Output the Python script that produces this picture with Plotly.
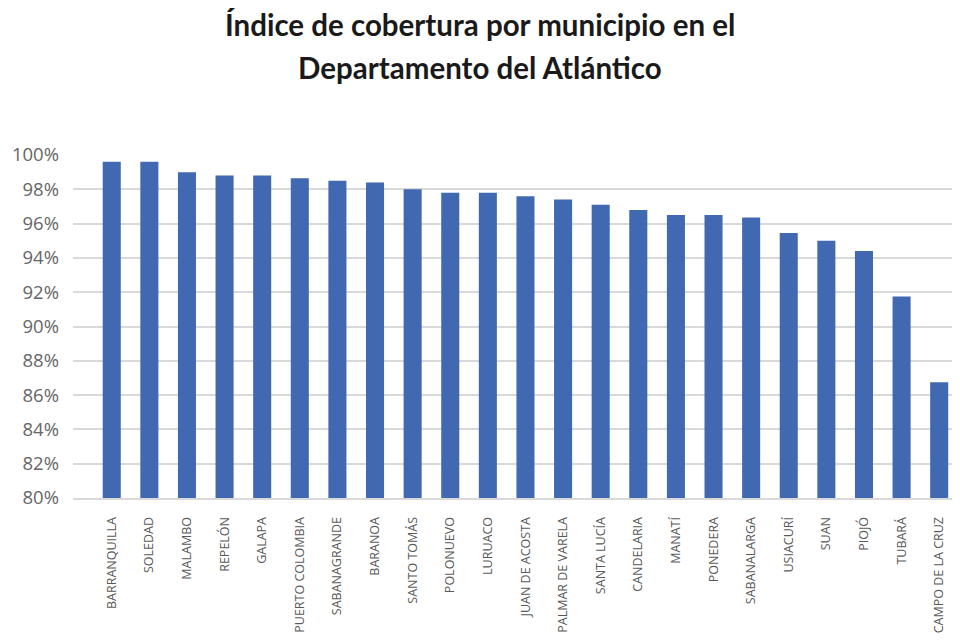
import plotly.graph_objects as go

municipios = ["BARRANQUILLA", "SOLEDAD", "MALAMBO", "REPELÓN", "GALAPA", "PUERTO COLOMBIA",
              "SABANAGRANDE", "BARANOA", "SANTO TOMÁS", "POLONUEVO", "LURUACO", "JUAN DE ACOSTA",
              "PALMAR DE VARELA", "SANTA LUCÍA", "CANDELARIA", "MANATÍ", "PONEDERA", "SABANALARGA",
              "USIACURÍ", "SUAN", "PIOJÓ", "TUBARÁ", "CAMPO DE LA CRUZ"]
cobertura = [99.6, 99.6, 99.0, 98.8, 98.8, 98.65, 98.5, 98.4, 98.0, 97.8, 97.8, 97.6,
             97.4, 97.1, 96.8, 96.5, 96.5, 96.35, 95.45, 95.0, 94.4, 91.75, 86.75]
y_ticks = [80, 82, 84, 86, 88, 90, 92, 94, 96, 98, 100]
y_labels = [f"{v}%" for v in y_ticks]
title_lines = ["Índice de cobertura por municipio en el", "Departamento del Atlántico"]

L, R, T, B = 65, 10, 147, 154
plot_w = 960 - L - R
plot_h = 644 - T - B

fig = go.Figure(go.Bar(x=municipios, y=cobertura, marker_color="#4169B2",
                       width=0.48, marker_line_width=0))

for txt, ypix in zip(title_lines, [16, 59]):
    fig.add_annotation(text=txt, xref="paper", yref="paper", x=(472 - L) / plot_w, xanchor="center",
                       y=1 + (T - ypix) / plot_h, yanchor="middle", showarrow=False,
                       font=dict(family="Lato", size=29.5, color="#1a1a1a", weight="bold"))

fig.update_layout(
    width=960, height=644,
    paper_bgcolor="white", plot_bgcolor="white",
    margin=dict(l=L, r=R, t=T, b=B, autoexpand=False),
    showlegend=False,
    font=dict(family="Open Sans", color="#595959"),
)
fig.update_yaxes(range=[80, 100], tickvals=y_ticks, ticktext=y_labels, automargin=False,
                 showgrid=True, gridcolor="#D9D9D9", gridwidth=2,
                 zeroline=False, showline=False, ticks="",
                 tickfont=dict(family="Open Sans", size=18.5, color="#666666"), ticklabelstandoff=13)
fig.update_xaxes(range=[-1.03, 22.5], tickangle=-90, showgrid=False, automargin=False,
                 showline=True, linecolor="#D9D9D9", linewidth=2, ticks="",
                 tickfont=dict(family="Open Sans", size=12.5, color="#595959"), ticklabelstandoff=12)

fig.write_html("out.html")
